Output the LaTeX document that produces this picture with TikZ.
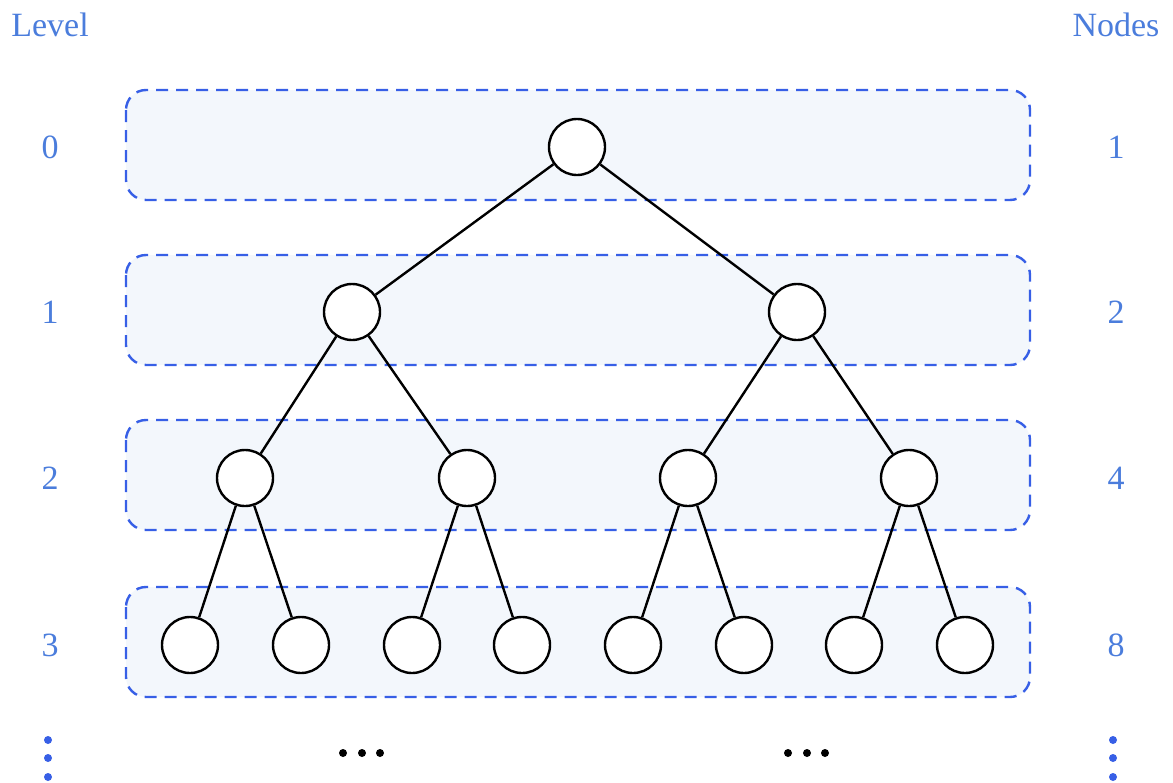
\documentclass[tikz,border=0pt]{standalone}
\usepackage{fontspec}
\setmainfont{Liberation Serif}
\begin{document}
\begin{tikzpicture}[x=0.5pt,y=-0.5pt,
  tnode/.style={circle,draw=black,line width=1.2pt,fill=white,minimum size=28pt,inner sep=0pt},
  edge/.style={draw=black,line width=1.2pt},
  levelbox/.style={draw=boxblue,fill=boxfill,line width=1.2pt,dash pattern=on 6pt off 4pt,rounded corners=10pt},
  lbl/.style={text=lblblue,font=\fontsize{17}{20}\selectfont,inner sep=0pt},
  vdot/.style={fill=boxblue},
  hdot/.style={fill=black}]
\definecolor{boxblue}{RGB}{55,95,230}
\definecolor{boxfill}{RGB}{243,247,252}
\definecolor{lblblue}{RGB}{75,125,220}
\useasboundingbox (0,0) rectangle (1173,782);
% level boxes
\foreach \yt/\yb in {90/200,255/365,420/530,587/697}
  \draw[levelbox] (126,\yt) rectangle (1030,\yb);
% nodes
\node[tnode] (r) at (577,147) {};
\node[tnode] (a) at (352,312) {};
\node[tnode] (b) at (797,312) {};
\node[tnode] (a1) at (245,478) {};
\node[tnode] (a2) at (467,478) {};
\node[tnode] (b1) at (688,478) {};
\node[tnode] (b2) at (909,478) {};
\node[tnode] (c1) at (190,645) {};
\node[tnode] (c2) at (301,645) {};
\node[tnode] (c3) at (412,645) {};
\node[tnode] (c4) at (522,645) {};
\node[tnode] (c5) at (633,645) {};
\node[tnode] (c6) at (744,645) {};
\node[tnode] (c7) at (854,645) {};
\node[tnode] (c8) at (965,645) {};
% edges
\draw[edge] (r) -- (a);
\draw[edge] (r) -- (b);
\draw[edge] (a) -- (a1);
\draw[edge] (a) -- (a2);
\draw[edge] (b) -- (b1);
\draw[edge] (b) -- (b2);
\draw[edge] (a1) -- (c1);
\draw[edge] (a1) -- (c2);
\draw[edge] (a2) -- (c3);
\draw[edge] (a2) -- (c4);
\draw[edge] (b1) -- (c5);
\draw[edge] (b1) -- (c6);
\draw[edge] (b2) -- (c7);
\draw[edge] (b2) -- (c8);
% labels
\node[lbl] (lev) at (50,25) {Level};
\node[lbl] (nod) at (1116,25) {Nodes};
\node[lbl] (l0) at (50,147) {0};
\node[lbl] (l1) at (50,312) {1};
\node[lbl] (l2) at (50,478) {2};
\node[lbl] (l3) at (50,645) {3};
\node[lbl] (n0) at (1116,147) {1};
\node[lbl] (n1) at (1116,312) {2};
\node[lbl] (n2) at (1116,478) {4};
\node[lbl] (n3) at (1116,645) {8};
% vertical dots
\foreach \y in {740,758,777} {
  \fill[vdot] (48,\y) circle (2pt);
  \fill[vdot] (1113,\y) circle (2pt);
}
% horizontal dots
\foreach \x in {343,362,380,788,807,825}
  \fill[hdot] (\x,753) circle (2pt);
\end{tikzpicture}
\end{document}
